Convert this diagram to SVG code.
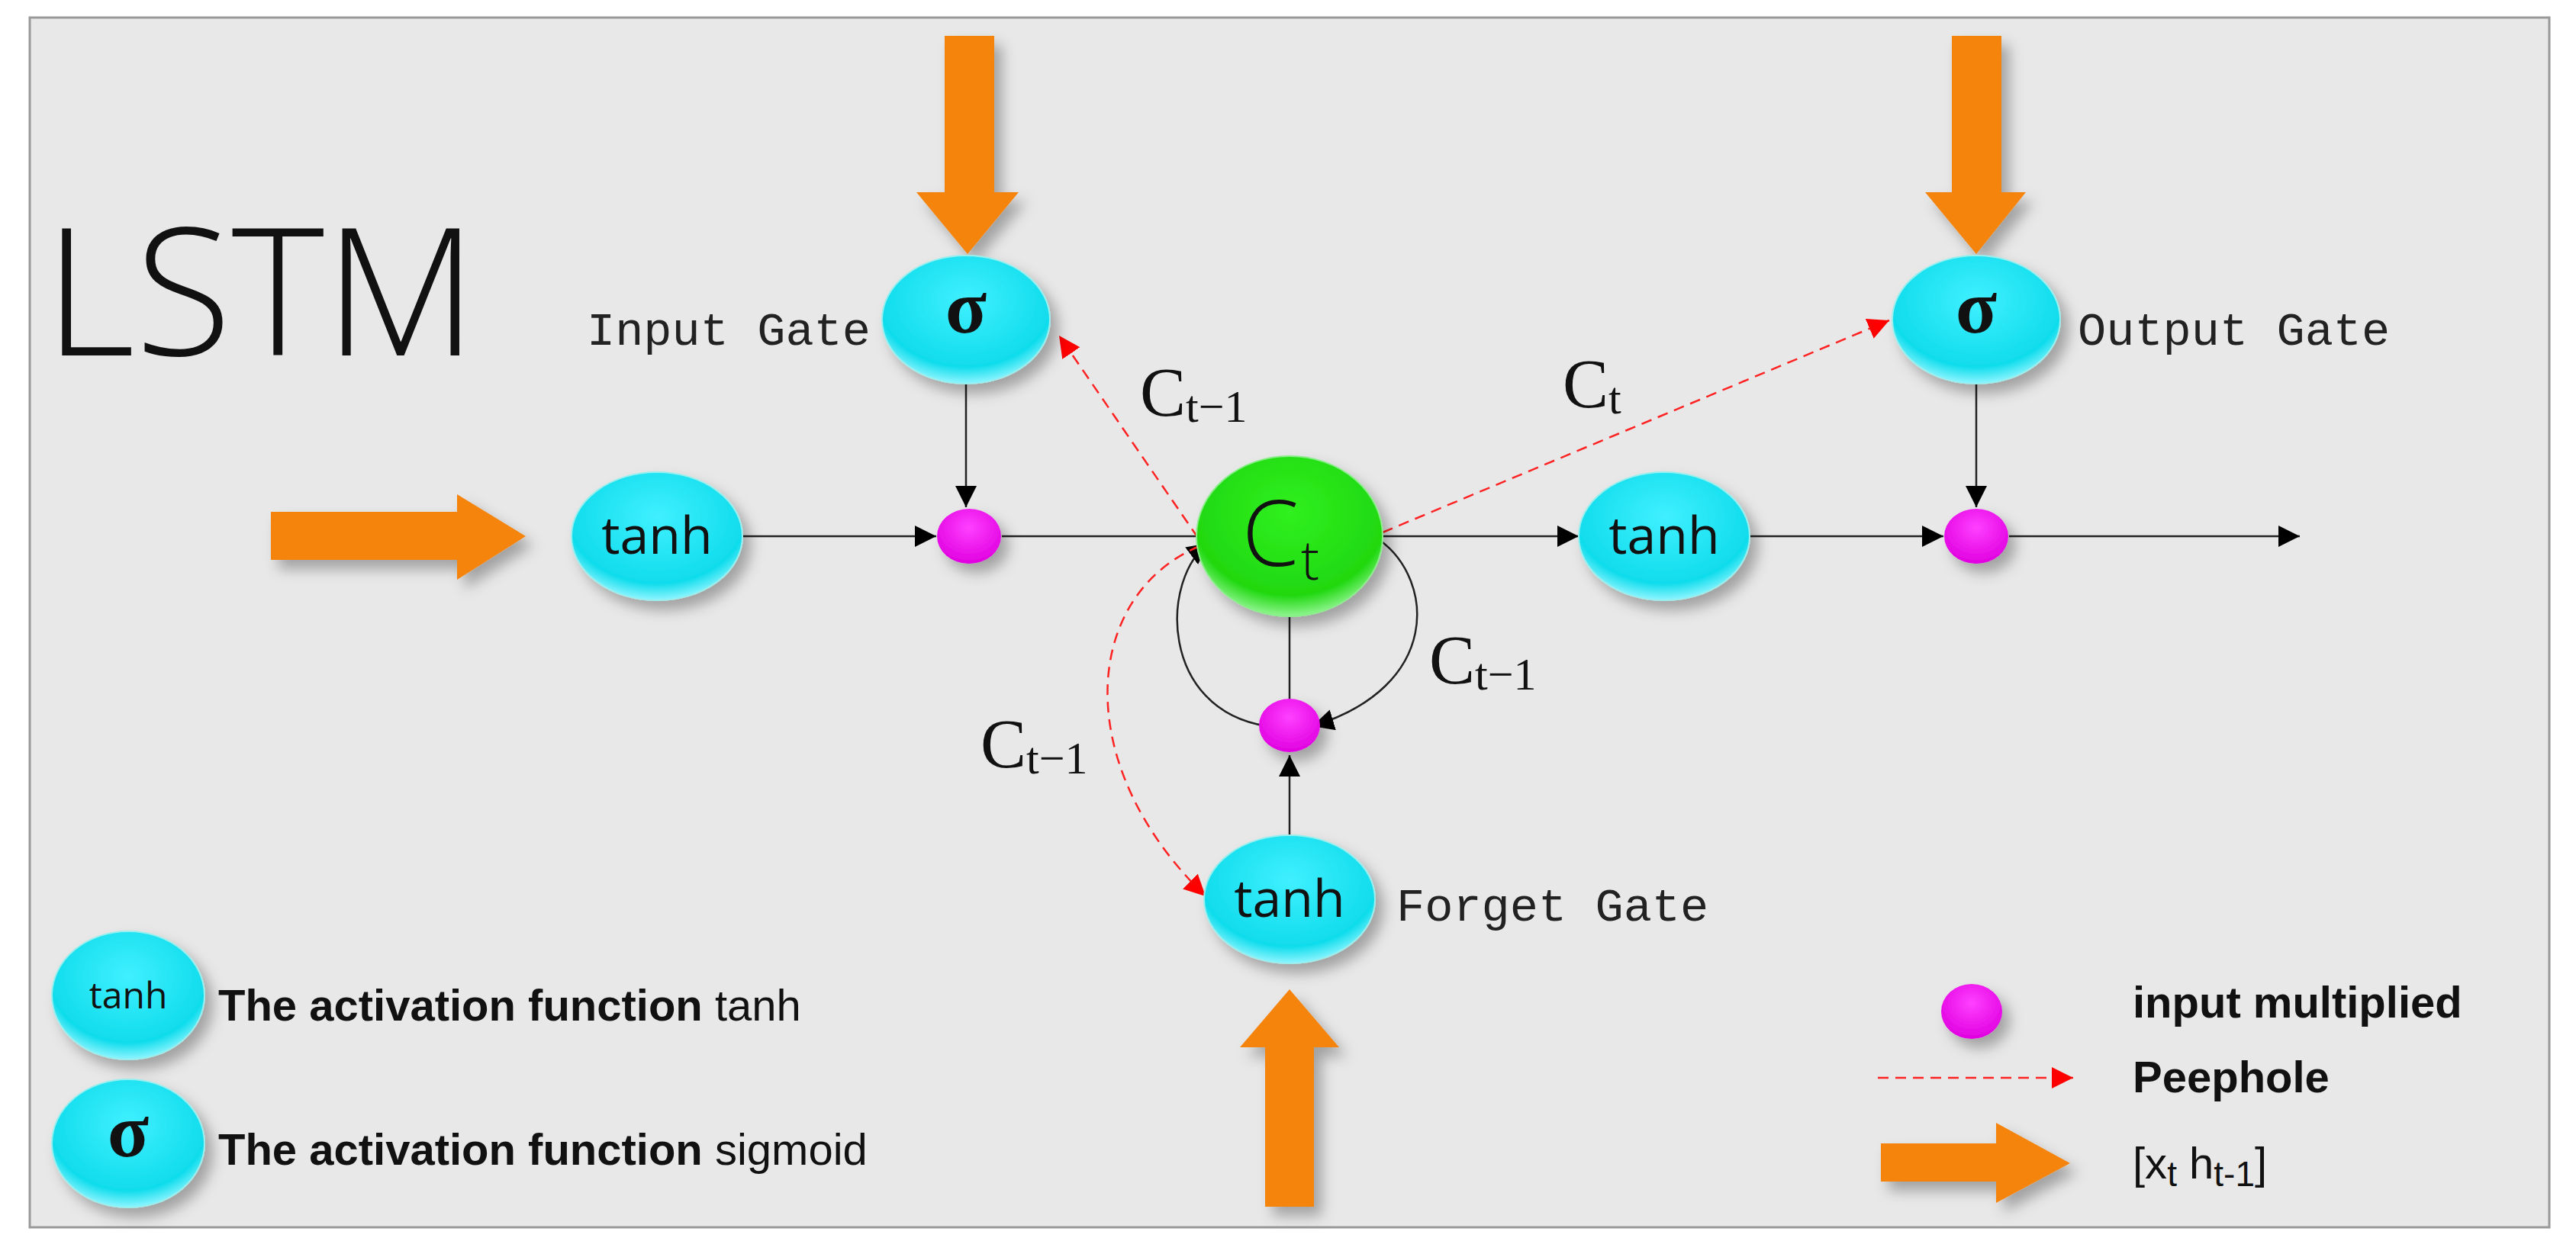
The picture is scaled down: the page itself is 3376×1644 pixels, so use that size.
<svg xmlns="http://www.w3.org/2000/svg" width="3376" height="1644" viewBox="0 0 3376 1644">
<style>
.bg{fill:#e8e8e8;stroke:#999;stroke-width:3}
.cy{fill:url(#gc);stroke:#9ee;stroke-width:2;filter:url(#sh)}
.gr{fill:url(#gg);stroke:#8e8;stroke-width:2;filter:url(#sh)}
.mg{fill:url(#gm);filter:url(#sh)}
.or{fill:#f58410;filter:url(#sh)}
.ln{stroke:#222;stroke-width:2.5;fill:none}
.pk{stroke:#f22;stroke-width:2.5;fill:none;stroke-dasharray:14 9}
.nt{font-family:"Open Sans","Liberation Sans",sans-serif;font-size:68px;fill:#111;text-anchor:middle}
.sg{font-family:"Liberation Serif",serif;font-weight:bold;font-size:100px;fill:#111;text-anchor:middle}
.gt{font-family:"Liberation Mono",monospace;font-size:62px;fill:#222}
.cl{font-family:"Liberation Serif",serif;font-size:90px;fill:#111}
.lg{font-family:"Liberation Sans",sans-serif;font-size:58px;fill:#111}
</style>
<defs>
<radialGradient id="gc" cx="50%" cy="35%" r="65%"><stop offset="0" stop-color="#40f0ff"/><stop offset="0.8" stop-color="#10dcec"/><stop offset="1" stop-color="#8ff6ff"/></radialGradient>
<radialGradient id="gg" cx="50%" cy="35%" r="65%"><stop offset="0" stop-color="#30f020"/><stop offset="0.8" stop-color="#20d810"/><stop offset="1" stop-color="#90f590"/></radialGradient>
<radialGradient id="gm" cx="50%" cy="35%" r="65%"><stop offset="0" stop-color="#ff40ff"/><stop offset="1" stop-color="#e000e0"/></radialGradient>
<filter id="sh" x="-30%" y="-30%" width="170%" height="170%"><feDropShadow dx="10" dy="12" stdDeviation="9" flood-color="#000" flood-opacity="0.3"/></filter>
<marker id="a" viewBox="0 0 10 10" refX="10" refY="5" markerWidth="28" markerHeight="28" orient="auto" markerUnits="userSpaceOnUse"><path d="M0,0L10,5L0,10z" fill="#000"/></marker>
<marker id="ar" viewBox="0 0 10 10" refX="10" refY="5" markerWidth="28" markerHeight="28" orient="auto" markerUnits="userSpaceOnUse"><path d="M0,0L10,5L0,10z" fill="#f00"/></marker>
</defs>
<rect class="bg" x="39" y="23" width="3302" height="1586"/>
<text x="58" y="466" font-family="'Open Sans','Liberation Sans',sans-serif" font-weight="300" font-size="232" fill="#111">LSTM</text>

<g id="connectors">
<line class="ln" x1="973" y1="703" x2="1227" y2="703" marker-end="url(#a)"/>
<line class="ln" x1="1313" y1="703" x2="1568" y2="703"/>
<line class="ln" x1="1812" y1="703" x2="2069" y2="703" marker-end="url(#a)"/>
<line class="ln" x1="2293" y1="703" x2="2547" y2="703" marker-end="url(#a)"/>
<line class="ln" x1="2633" y1="703" x2="3014" y2="703" marker-end="url(#a)"/>
<line class="ln" x1="1266" y1="503" x2="1266" y2="665" marker-end="url(#a)"/>
<line class="ln" x1="2590" y1="503" x2="2590" y2="665" marker-end="url(#a)"/>
<line class="ln" x1="1690" y1="808" x2="1690" y2="918"/>
<line class="ln" x1="1690" y1="1096" x2="1690" y2="990" marker-end="url(#a)"/>
<path class="ln" d="M1808,708 C1880,760 1890,900 1720,952" marker-end="url(#a)"/>
<path class="ln" d="M1660,952 C1520,930 1520,760 1584,712" marker-end="url(#a)"/>
<line class="pk" x1="1570" y1="705" x2="1388" y2="440" marker-end="url(#ar)"/>
<line class="pk" x1="1812" y1="698" x2="2476" y2="420" marker-end="url(#ar)"/>
<path class="pk" d="M1572,716 C1420,780 1400,1000 1580,1175" marker-end="url(#ar)"/>
</g>

<g id="arrow-input-top"><path class="or" d="M1238,47H1303V252H1335L1268,333L1201,252H1238Z"/></g>
<g id="arrow-output-top"><path class="or" d="M2558,47H2623V252H2655L2590,333L2523,252H2558Z"/></g>
<g id="arrow-left"><path class="or" d="M355,671H599V648L689,703L599,760V734H355Z"/></g>
<g id="arrow-bottom"><path class="or" d="M1658,1582V1373H1625L1690,1297L1755,1373H1722V1582Z"/></g>

<g id="input-gate"><ellipse class="cy" cx="1266" cy="419" rx="110" ry="84"/><text class="sg" x="1266" y="436">σ</text>
<text class="gt" x="1141" y="452" text-anchor="end">Input Gate</text></g>
<g id="output-gate"><ellipse class="cy" cx="2590" cy="419" rx="110" ry="84"/><text class="sg" x="2590" y="436">σ</text>
<text class="gt" x="2723" y="452">Output Gate</text></g>
<g id="tanh-in"><ellipse class="cy" cx="861" cy="703" rx="112" ry="84"/><text class="nt" x="861" y="726">tanh</text></g>
<g id="mult-in"><ellipse class="mg" cx="1270" cy="703" rx="42" ry="36"/></g>
<g id="cell"><ellipse class="gr" cx="1690" cy="703" rx="122" ry="105"/><text x="1665" y="742" font-family="'Open Sans','Liberation Sans',sans-serif" font-weight="300" font-size="120" fill="#111" text-anchor="middle">C</text><text x="1705" y="760" font-family="'Open Sans','Liberation Sans',sans-serif" font-weight="300" font-size="72" fill="#111">t</text></g>
<g id="tanh-out"><ellipse class="cy" cx="2181" cy="703" rx="112" ry="84"/><text class="nt" x="2181" y="726">tanh</text></g>
<g id="mult-out"><ellipse class="mg" cx="2590" cy="703" rx="42" ry="36"/></g>
<g id="mult-forget"><ellipse class="mg" cx="1690" cy="951" rx="40" ry="35"/></g>
<g id="forget-gate"><ellipse class="cy" cx="1690" cy="1179" rx="112" ry="84"/><text class="nt" x="1690" y="1202">tanh</text>
<text class="gt" x="1830" y="1207">Forget Gate</text></g>

<g id="labels">
<text class="cl" x="1494" y="545">C<tspan font-size="60" dy="8">t−1</tspan></text>
<text class="cl" x="2048" y="534">C<tspan font-size="60" dy="8">t</tspan></text>
<text class="cl" x="1873" y="896">C<tspan font-size="60" dy="8">t−1</tspan></text>
<text class="cl" x="1285" y="1006">C<tspan font-size="60" dy="8">t−1</tspan></text>
</g>

<g id="legend">
<ellipse class="cy" cx="168" cy="1305" rx="100" ry="84"/><text x="168" y="1322" font-family="'Open Sans','Liberation Sans',sans-serif" font-size="48" fill="#111" text-anchor="middle">tanh</text>
<text class="lg" x="286" y="1338"><tspan font-weight="bold">The activation function</tspan> tanh</text>
<ellipse class="cy" cx="168" cy="1499" rx="100" ry="84"/><text class="sg" x="168" y="1516">σ</text>
<text class="lg" x="286" y="1527"><tspan font-weight="bold">The activation function</tspan> sigmoid</text>
<ellipse class="mg" cx="2584" cy="1326" rx="40" ry="36"/>
<text class="lg" x="2795" y="1334" font-weight="bold" font-size="60">input multiplied</text>
<line class="pk" x1="2461" y1="1413" x2="2717" y2="1413" marker-end="url(#ar)"/>
<text class="lg" x="2795" y="1432" font-weight="bold" font-size="60">Peephole</text>
<path class="or" d="M2465,1499H2616V1472L2713,1525L2616,1577V1549H2465Z"/>
<text class="lg" x="2795" y="1545" font-size="74">[x<tspan font-size="46" dy="10">t</tspan><tspan dy="-10"> h</tspan><tspan font-size="46" dy="10">t-1</tspan><tspan dy="-10">]</tspan></text>
</g>
</svg>
